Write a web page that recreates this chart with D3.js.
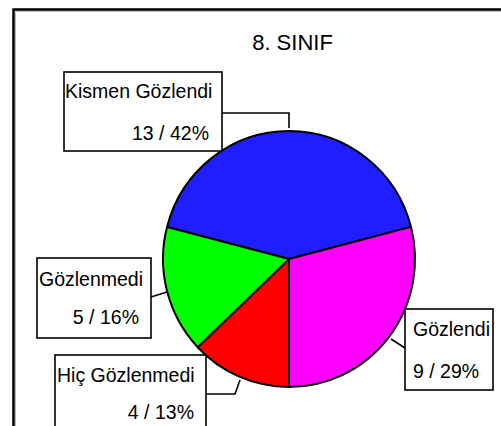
<!DOCTYPE html>
<html><head><meta charset="utf-8">
<script src="https://cdn.jsdelivr.net/npm/d3@7"></script>
<style>body{margin:0;background:#fff}svg{display:block}text{font-family:"Liberation Sans",Arial,sans-serif;fill:#000}</style>
</head><body>
<svg id="c" width="501" height="426"></svg>
<script>
const title = "8. SINIF";
const categories = ["Kismen Gözlendi", "Gözlendi", "Hiç Gözlenmedi", "Gözlenmedi"];
const counts = [13, 9, 4, 5];
const percents = [42, 29, 13, 16];
const colors = ["#1e1eff", "#ff00ff", "#ff0000", "#00ff00"];

const svg = d3.select("#c");
// frame (top + left lines with light inner line)
svg.append("path").attr("d","M13.5,426 V9.5 H501").attr("fill","none").attr("stroke","#000").attr("stroke-width",2.5);
svg.append("path").attr("d","M15.5,426 V11.5 H501").attr("fill","none").attr("stroke","#bbb").attr("stroke-width",1);

svg.append("text").attr("x",292.5).attr("y",50).attr("text-anchor","middle").attr("font-size",22).text(title);

const cx = 289, cy = 259, rx = 126, ry = 128;
const startDeg = -75.5;
const pie = d3.pie().sort(null).value(d=>d)
  .startAngle(startDeg*Math.PI/180).endAngle((startDeg+360)*Math.PI/180);
const arcs = pie(counts);
const arc = d3.arc().innerRadius(0).outerRadius(1);
const g = svg.append("g").attr("transform",`translate(${cx},${cy})`);
g.selectAll("path.s").data(arcs).enter().append("path").attr("class","s")
  .attr("d", d=>arc(d))
  .attr("transform",`scale(${rx},${ry})`)
  .attr("fill",(d,i)=>colors[i])
  .attr("stroke","#000").attr("stroke-width",2).attr("vector-effect","non-scaling-stroke")
  .attr("stroke-linejoin","round");

// label boxes (positions per slice)
const boxes = [
  {x:64,y:72,w:158,h:79, t1x:65,t1y:98, t2x:209,t2y:140, a2:"end",
   lead:[[222,113],[289,113],[289,128]]},
  {x:405,y:309,w:88,h:81, t1x:413,t1y:336, t2x:413,t2y:378, a2:"start",
   lead:[[405,348],[391,339]]},
  {x:55,y:355,w:151,h:90, t1x:57,t1y:382, t2x:194,t2y:419, a2:"end",
   lead:[[206,394],[235,394],[240,380]]},
  {x:37,y:258,w:114,h:80, t1x:39,t1y:286, t2x:139,t2y:324, a2:"end",
   lead:[[151,297],[167,292]]}
];
boxes.forEach((b,i)=>{
  svg.append("path").attr("d",d3.line()(b.lead)).attr("fill","none").attr("stroke","#000").attr("stroke-width",1.6);
  svg.append("rect").attr("x",b.x).attr("y",b.y).attr("width",b.w).attr("height",b.h)
    .attr("fill","#fff").attr("stroke","#000").attr("stroke-width",1.6);
  svg.append("text").attr("x",b.t1x).attr("y",b.t1y).attr("font-size",19.5).text(categories[i]);
  svg.append("text").attr("x",b.t2x).attr("y",b.t2y).attr("font-size",19.5).attr("text-anchor",b.a2)
    .text(`${counts[i]} / ${percents[i]}%`);
});
</script>
</body></html>
